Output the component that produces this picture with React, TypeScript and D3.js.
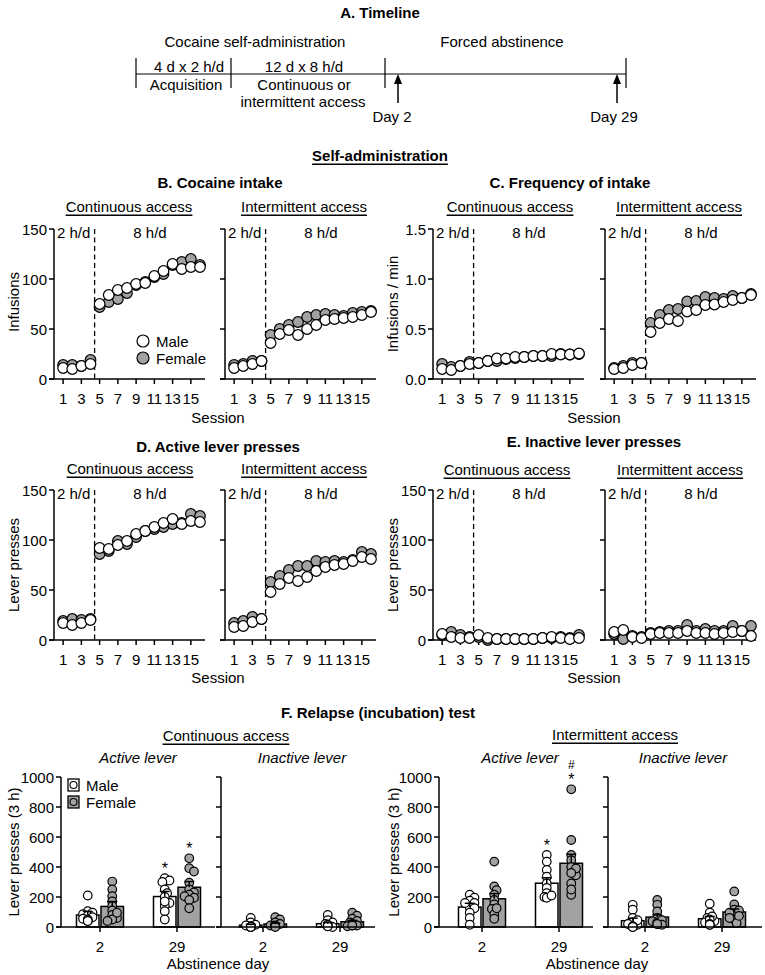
import React from 'react';
import * as d3 from 'd3';

// ---------- DATA ----------
const sessions = [1, 2, 3, 4, 5, 6, 7, 8, 9, 10, 11, 12, 13, 14, 15, 16];
const sessionTicks = [1, 3, 5, 7, 9, 11, 13, 15];

// B. Cocaine intake (infusions)
const infContMale = [11, 10, 13, 15, 75, 84, 89, 91, 95, 96, 103, 108, 115, 110, 112, 112];
const infContFemale = [14, 14, 13, 19, 72, 77, 80, 86, 94, 97, 102, 105, 114, 117, 120, 114];
const infIntMale = [11, 13, 15, 18, 36, 45, 49, 44, 50, 54, 59, 60, 61, 62, 64, 67];
const infIntFemale = [14, 15, 18, 18, 44, 50, 54, 57, 62, 64, 65, 64, 63, 66, 67, 68];

// C. Frequency of intake (infusions / min)
const freqContMale = [0.10, 0.09, 0.13, 0.15, 0.16, 0.18, 0.205, 0.205, 0.22, 0.22, 0.23, 0.23, 0.25, 0.245, 0.245, 0.255];
const freqContFemale = [0.15, 0.12, 0.13, 0.17, 0.16, 0.18, 0.18, 0.20, 0.21, 0.22, 0.23, 0.23, 0.23, 0.25, 0.245, 0.25];
const freqIntMale = [0.10, 0.11, 0.14, 0.16, 0.47, 0.56, 0.60, 0.58, 0.675, 0.69, 0.74, 0.745, 0.77, 0.79, 0.81, 0.84];
const freqIntFemale = [0.11, 0.13, 0.16, 0.16, 0.56, 0.64, 0.69, 0.70, 0.775, 0.78, 0.82, 0.81, 0.80, 0.83, 0.81, 0.85];

// D. Active lever presses
const actContMale = [17, 15, 17, 20, 92, 91, 95, 99, 106, 109, 113, 117, 121, 116, 119, 118];
const actContFemale = [19, 21, 20, 21, 86, 89, 99, 96, 103, 109, 111, 113, 116, 117, 126, 124];
const actIntMale = [13, 14, 18, 21, 48, 56, 62, 59, 63, 69, 73, 75, 76, 79, 83, 81];
const actIntFemale = [17, 19, 23, 21, 58, 64, 70, 74, 74, 79, 78, 79, 78, 80, 88, 86];

// E. Inactive lever presses
const inaContMale = [6, 3, 2, 2, 5, 2, 1, 1, 1, 1, 1, 2, 3, 2, 1, 2];
const inaContFemale = [5, 8, 5, 3, 3, 0, 1, 1, 1, 1, 1, 2, 2, 3, 2, 5];
const inaIntMale = [8, 10, 3, 2, 6, 7, 7, 7, 9, 7, 7, 6, 7, 8, 9, 4];
const inaIntFemale = [6, 1, 4, 3, 7, 8, 9, 9, 15, 9, 11, 9, 9, 14, 9, 14];

// F. Relapse test (lever presses, 3 h)
const abstinenceDays = ['2', '29'];
const relYTicks = [0, 200, 400, 600, 800, 1000];

const contActMaleMean = [80, 203];
const contActMaleSem = [24, 34];
const contActFemaleMean = [137, 265];
const contActFemaleSem = [33, 38];
const contActMalePts = [
  [210, 105, 95, 85, 75, 65, 55, 50, 40, 40],
  [325, 310, 300, 250, 225, 200, 160, 140, 105, 50, 170],
];
const contActFemalePts = [
  [303, 250, 205, 170, 140, 110, 80, 60, 50, 40, 95],
  [458, 392, 295, 250, 230, 215, 205, 195, 180, 125, 370],
];

const contInaMaleMean = [12, 22];
const contInaMaleSem = [6, 8];
const contInaFemaleMean = [20, 35];
const contInaFemaleSem = [6, 9];
const contInaMalePts = [
  [60, 30, 15, 5, 0, 0, 5, 10, 0, 0],
  [80, 45, 30, 20, 10, 5, 0, 10, 15, 5],
];
const contInaFemalePts = [
  [65, 50, 30, 20, 10, 5, 5, 10, 5, 0],
  [95, 75, 55, 40, 30, 20, 10, 10, 5, 10],
];

const intActMaleMean = [133, 292];
const intActMaleSem = [25, 36];
const intActFemaleMean = [188, 425];
const intActFemaleSem = [35, 60];
const intActMalePts = [
  [215, 195, 175, 160, 130, 125, 95, 60, 15, 160],
  [480, 436, 380, 335, 290, 260, 225, 200, 195, 210],
];
const intActFemalePts = [
  [436, 270, 245, 215, 180, 150, 120, 85, 55, 125],
  [918, 580, 480, 445, 400, 345, 290, 215, 390, 250, 360],
];

const intInaMaleMean = [42, 55];
const intInaMaleSem = [17, 15];
const intInaFemaleMean = [66, 100];
const intInaFemaleSem = [15, 20];
const intInaMalePts = [
  [148, 115, 60, 15, 0, 30, 45, 20, 5, 0],
  [155, 95, 60, 15, 40, 30, 70, 50, 20, 15],
];
const intInaFemalePts = [
  [181, 148, 104, 60, 38, 30, 20, 45, 15, 20],
  [237, 150, 115, 82, 50, 27, 95, 60, 110, 74],
];

const contActMaleAnn = ['', '*'];
const contActFemaleAnn = ['', '*'];
const intActMaleAnn = ['', '*'];
const intActFemaleAnn = ['', '#*'];
const noAnn = ['', ''];

// ---------- STYLE ----------
const FONT = '"Liberation Sans", Arial, Helvetica, sans-serif';
const FS = 15;
const GREY = '#a2a2a2';
const SW = 1.5;

const T = (props: any) => (
  <text
    fontFamily={FONT}
    fontSize={FS}
    dominantBaseline="central"
    fill="#000"
    {...props}
  />
);

// ---------- SESSION PANEL ----------
type SP = {
  x0: number; yTop: number; yBot: number; yMax: number; ticks: number[];
  fmt: (d: number) => string; labels: boolean; male: number[]; female: number[];
};

function SessionPanel({ x0, yTop, yBot, yMax, ticks, fmt, labels, male, female }: SP) {
  const x = d3.scaleLinear().domain([0, 16.55]).range([x0, x0 + 151]);
  const y = d3.scaleLinear().domain([0, yMax]).range([yBot, yTop]);
  const dashX = x(4.45);
  const r = 5.3;
  return (
    <g>
      <line x1={dashX} x2={dashX} y1={yTop} y2={yBot} stroke="#000" strokeWidth={1.3} strokeDasharray="5,3.5" />
      <line x1={x0} x2={x0} y1={yTop} y2={yBot} stroke="#000" strokeWidth={SW} />
      <line x1={x0 - 5} x2={x(16.55)} y1={yBot} y2={yBot} stroke="#000" strokeWidth={SW} />
      {ticks.map((t) => (
        <g key={'yt' + t}>
          <line x1={x0 - 5} x2={x0} y1={y(t)} y2={y(t)} stroke="#000" strokeWidth={SW} />
          {labels && <T x={x0 - 7} y={y(t)} textAnchor="end">{fmt(t)}</T>}
        </g>
      ))}
      {sessionTicks.map((s) => (
        <g key={'xt' + s}>
          <line x1={x(s)} x2={x(s)} y1={yBot} y2={yBot + 5} stroke="#000" strokeWidth={SW} />
          <T x={x(s)} y={yBot + 19} textAnchor="middle">{String(s)}</T>
        </g>
      ))}
      <T x={x0 + 3} y={yTop + 3} textAnchor="start">2 h/d</T>
      <T x={x0 + 96} y={yTop + 3} textAnchor="middle">8 h/d</T>
      {female.map((v, i) => (
        <circle key={'f' + i} cx={x(sessions[i])} cy={y(v)} r={r} fill={GREY} stroke="#000" strokeWidth={1.2} />
      ))}
      {male.map((v, i) => (
        <circle key={'m' + i} cx={x(sessions[i])} cy={y(v)} r={r} fill="#fff" stroke="#000" strokeWidth={1.2} />
      ))}
    </g>
  );
}

// ---------- RELAPSE PANEL ----------
function dodge(values: number[], yf: (v: number) => number, r: number) {
  const items = values.map((v) => ({ v, yy: yf(v), dx: 0 }));
  const order = [...items].sort((a, b) => b.v - a.v);
  const placed: { x: number; y: number }[] = [];
  const minD = r * 0.95;
  for (const p of order) {
    const cands = [0, 1, -1, 2, -2].map((k) => k * r * 0.55);
    let chosen = 0;
    for (const dx of cands) {
      if (placed.every((q) => Math.hypot(q.x - dx, q.y - p.yy) >= minD)) { chosen = dx; break; }
    }
    p.dx = chosen;
    placed.push({ x: chosen, y: p.yy });
  }
  return items;
}

type RP = {
  axisX: number; t0: number; labels: boolean;
  mMean: number[]; mSem: number[]; fMean: number[]; fSem: number[];
  mPts: number[][]; fPts: number[][]; mAnn: string[]; fAnn: string[];
};

const R_TOP = 777;
const R_BOT = 927;

function RelapsePanel({ axisX, t0, labels, mMean, mSem, fMean, fSem, mPts, fPts, mAnn, fAnn }: RP) {
  const y = d3.scaleLinear().domain([0, 1000]).range([R_BOT, R_TOP]);
  const xd = d3.scalePoint<string>().domain(abstinenceDays).range([t0, t0 + 77]);
  const bw = 22.5;
  const pr = 4.3;
  const groups = abstinenceDays.flatMap((d, i) => {
    const c = xd(d) as number;
    return [
      { key: 'm' + d, cx: c - 1 - bw / 2, mean: mMean[i], sem: mSem[i], pts: mPts[i], fill: '#fff', ann: mAnn[i] },
      { key: 'f' + d, cx: c + 1 + bw / 2, mean: fMean[i], sem: fSem[i], pts: fPts[i], fill: GREY, ann: fAnn[i] },
    ];
  });
  return (
    <g>
      {groups.map((g) => (
        <rect key={'b' + g.key} x={g.cx - bw / 2} y={y(g.mean)} width={bw} height={R_BOT - y(g.mean)}
          fill={g.fill} stroke="#000" strokeWidth={SW} />
      ))}
      {groups.map((g) => (
        <g key={'p' + g.key}>
          {dodge(g.pts, y, pr).map((p, j) => (
            <circle key={j} cx={g.cx + p.dx} cy={p.yy} r={pr} fill={g.fill} stroke="#000" strokeWidth={1.2} />
          ))}
        </g>
      ))}
      {groups.map((g) => (
        <g key={'e' + g.key}>
          <line x1={g.cx} x2={g.cx} y1={y(g.mean)} y2={y(g.mean + g.sem)} stroke="#000" strokeWidth={SW} />
          <line x1={g.cx - 5} x2={g.cx + 5} y1={y(g.mean + g.sem)} y2={y(g.mean + g.sem)} stroke="#000" strokeWidth={SW} />
        </g>
      ))}
      {groups.map((g) => {
        if (!g.ann) return null;
        const topY = y(d3.max(g.pts) as number) - 12;
        const chars = g.ann.split('');
        return chars.map((ch, k) => {
          const idxFromBottom = chars.length - 1 - k;
          const cy = topY - idxFromBottom * 11;
          return ch === '*' ? (
            <text key={g.key + 'a' + k} x={g.cx} y={cy + 8} fontFamily={FONT} fontSize={16} textAnchor="middle">*</text>
          ) : (
            <text key={g.key + 'a' + k} x={g.cx} y={cy + 3} fontFamily={FONT} fontSize={12} textAnchor="middle">{ch}</text>
          );
        });
      })}
      <line x1={axisX} x2={axisX} y1={R_TOP} y2={R_BOT} stroke="#000" strokeWidth={SW} />
      <line x1={axisX - 5} x2={axisX + 154} y1={R_BOT} y2={R_BOT} stroke="#000" strokeWidth={SW} />
      {relYTicks.map((t) => (
        <g key={'yt' + t}>
          <line x1={axisX - 5} x2={axisX} y1={y(t)} y2={y(t)} stroke="#000" strokeWidth={SW} />
          {labels && <T x={axisX - 7} y={y(t)} textAnchor="end">{String(t)}</T>}
        </g>
      ))}
      {abstinenceDays.map((d) => (
        <g key={'xt' + d}>
          <line x1={xd(d)} x2={xd(d)} y1={R_BOT} y2={R_BOT + 5} stroke="#000" strokeWidth={SW} />
          <T x={xd(d)} y={R_BOT + 19} textAnchor="middle">{d}</T>
        </g>
      ))}
    </g>
  );
}

// ---------- APP ----------
export default function App() {
  const f0 = (d: number) => String(d);
  const f1 = d3.format('.1f');
  const row1 = { yTop: 229, yBot: 379 };
  const row2 = { yTop: 490, yBot: 640 };
  const panels: SP[] = [
    { x0: 54, ...row1, yMax: 150, ticks: [0, 50, 100, 150], fmt: f0, labels: true, male: infContMale, female: infContFemale },
    { x0: 225, ...row1, yMax: 150, ticks: [0, 50, 100, 150], fmt: f0, labels: false, male: infIntMale, female: infIntFemale },
    { x0: 433, ...row1, yMax: 1.5, ticks: [0, 0.5, 1, 1.5], fmt: f1, labels: true, male: freqContMale, female: freqContFemale },
    { x0: 605, ...row1, yMax: 1.5, ticks: [0, 0.5, 1, 1.5], fmt: f1, labels: false, male: freqIntMale, female: freqIntFemale },
    { x0: 54, ...row2, yMax: 150, ticks: [0, 50, 100, 150], fmt: f0, labels: true, male: actContMale, female: actContFemale },
    { x0: 225, ...row2, yMax: 150, ticks: [0, 50, 100, 150], fmt: f0, labels: false, male: actIntMale, female: actIntFemale },
    { x0: 433, ...row2, yMax: 150, ticks: [0, 50, 100, 150], fmt: f0, labels: true, male: inaContMale, female: inaContFemale },
    { x0: 605, ...row2, yMax: 150, ticks: [0, 50, 100, 150], fmt: f0, labels: false, male: inaIntMale, female: inaIntFemale },
  ];
  const ul = { textDecoration: 'underline' };
  const tlY = 74;
  const tlTicks = [136, 231, 385, 626];
  const arrows = [398, 617];

  return (
    <svg width={765} height={975} style={{ position: 'absolute', left: 0, top: 0, background: '#fff' }}>
      <rect x={0} y={0} width={765} height={975} fill="#fff" />
      {/* A. Timeline */}
      <T x={380} y={12} textAnchor="middle" fontWeight="bold">A. Timeline</T>
      <T x={255} y={41} textAnchor="middle">Cocaine self-administration</T>
      <T x={502} y={41} textAnchor="middle">Forced abstinence</T>
      <line x1={tlTicks[0]} x2={tlTicks[3]} y1={tlY} y2={tlY} stroke="#000" strokeWidth={1.2} />
      {tlTicks.map((t) => (
        <line key={t} x1={t} x2={t} y1={58} y2={88} stroke="#000" strokeWidth={1.2} />
      ))}
      <T x={189} y={66} textAnchor="middle">4 d x 2 h/d</T>
      <T x={186} y={84} textAnchor="middle">Acquisition</T>
      <T x={304} y={66} textAnchor="middle">12 d x 8 h/d</T>
      <T x={304} y={84} textAnchor="middle">Continuous or</T>
      <T x={303} y={101} textAnchor="middle">intermittent access</T>
      {arrows.map((a) => (
        <g key={a}>
          <line x1={a} x2={a} y1={103} y2={82} stroke="#000" strokeWidth={1.5} />
          <polygon points={`${a},${tlY} ${a - 4},${tlY + 10} ${a + 4},${tlY + 10}`} fill="#000" />
        </g>
      ))}
      <T x={392} y={116} textAnchor="middle">Day 2</T>
      <T x={614} y={116} textAnchor="middle">Day 29</T>

      {/* Self-administration */}
      <T x={380} y={155} textAnchor="middle" fontWeight="bold" style={ul}>Self-administration</T>
      <T x={220} y={182} textAnchor="middle" fontWeight="bold">B. Cocaine intake</T>
      <T x={570} y={182} textAnchor="middle" fontWeight="bold">C. Frequency of intake</T>
      <T x={129} y={206} textAnchor="middle" style={ul}>Continuous access</T>
      <T x={304} y={206} textAnchor="middle" style={ul}>Intermittent access</T>
      <T x={510} y={206} textAnchor="middle" style={ul}>Continuous access</T>
      <T x={679} y={206} textAnchor="middle" style={ul}>Intermittent access</T>

      <T x={218} y={446} textAnchor="middle" fontWeight="bold">D. Active lever presses</T>
      <T x={594} y={441} textAnchor="middle" fontWeight="bold">E. Inactive lever presses</T>
      <T x={130} y={468} textAnchor="middle" style={ul}>Continuous access</T>
      <T x={304} y={468} textAnchor="middle" style={ul}>Intermittent access</T>
      <T x={507} y={469} textAnchor="middle" style={ul}>Continuous access</T>
      <T x={680} y={469} textAnchor="middle" style={ul}>Intermittent access</T>

      {panels.map((p, i) => <SessionPanel key={i} {...p} />)}

      <T x={13} y={302} textAnchor="middle" transform="rotate(-90 13 302)">Infusions</T>
      <T x={392} y={304} textAnchor="middle" transform="rotate(-90 392 304)">Infusions / min</T>
      <T x={13} y={565} textAnchor="middle" transform="rotate(-90 13 565)">Lever presses</T>
      <T x={392} y={565} textAnchor="middle" transform="rotate(-90 392 565)">Lever presses</T>
      <T x={218} y={417} textAnchor="middle">Session</T>
      <T x={594} y={417} textAnchor="middle">Session</T>
      <T x={218} y={677} textAnchor="middle">Session</T>
      <T x={594} y={677} textAnchor="middle">Session</T>

      {/* B legend */}
      <circle cx={143} cy={341} r={6} fill="#fff" stroke="#000" strokeWidth={1.2} />
      <circle cx={143} cy={358} r={6} fill={GREY} stroke="#000" strokeWidth={1.2} />
      <T x={156} y={341}>Male</T>
      <T x={156} y={358}>Female</T>

      {/* F. Relapse */}
      <T x={378} y={712} textAnchor="middle" fontWeight="bold">F. Relapse (incubation) test</T>
      <T x={226} y={735} textAnchor="middle" style={ul}>Continuous access</T>
      <T x={615} y={734} textAnchor="middle" style={ul}>Intermittent access</T>
      <T x={138} y={757} textAnchor="middle" fontStyle="italic">Active lever</T>
      <T x={302} y={757} textAnchor="middle" fontStyle="italic">Inactive lever</T>
      <T x={520} y={757} textAnchor="middle" fontStyle="italic">Active lever</T>
      <T x={683} y={757} textAnchor="middle" fontStyle="italic">Inactive lever</T>

      <RelapsePanel axisX={61} t0={100} labels={true} mMean={contActMaleMean} mSem={contActMaleSem}
        fMean={contActFemaleMean} fSem={contActFemaleSem} mPts={contActMalePts} fPts={contActFemalePts}
        mAnn={contActMaleAnn} fAnn={contActFemaleAnn} />
      <RelapsePanel axisX={221} t0={263} labels={false} mMean={contInaMaleMean} mSem={contInaMaleSem}
        fMean={contInaFemaleMean} fSem={contInaFemaleSem} mPts={contInaMalePts} fPts={contInaFemalePts}
        mAnn={noAnn} fAnn={noAnn} />
      <RelapsePanel axisX={439} t0={482} labels={true} mMean={intActMaleMean} mSem={intActMaleSem}
        fMean={intActFemaleMean} fSem={intActFemaleSem} mPts={intActMalePts} fPts={intActFemalePts}
        mAnn={intActMaleAnn} fAnn={intActFemaleAnn} />
      <RelapsePanel axisX={608} t0={645} labels={false} mMean={intInaMaleMean} mSem={intInaMaleSem}
        fMean={intInaFemaleMean} fSem={intInaFemaleSem} mPts={intInaMalePts} fPts={intInaFemalePts}
        mAnn={noAnn} fAnn={noAnn} />

      <T x={13} y={852} textAnchor="middle" transform="rotate(-90 13 852)">Lever presses (3 h)</T>
      <T x={393} y={852} textAnchor="middle" transform="rotate(-90 393 852)">Lever presses (3 h)</T>
      <T x={218} y={963} textAnchor="middle">Abstinence day</T>
      <T x={597} y={963} textAnchor="middle">Abstinence day</T>

      {/* F legend */}
      <rect x={68} y={779} width={11} height={12} fill="#fff" stroke="#000" strokeWidth={1.3} />
      <circle cx={73.5} cy={785} r={3.5} fill="#fff" stroke="#000" strokeWidth={1.1} />
      <rect x={68} y={796} width={11} height={12} fill={GREY} stroke="#000" strokeWidth={1.3} />
      <circle cx={73.5} cy={802} r={3.5} fill={GREY} stroke="#000" strokeWidth={1.1} />
      <T x={86} y={785}>Male</T>
      <T x={86} y={802}>Female</T>
    </svg>
  );
}
